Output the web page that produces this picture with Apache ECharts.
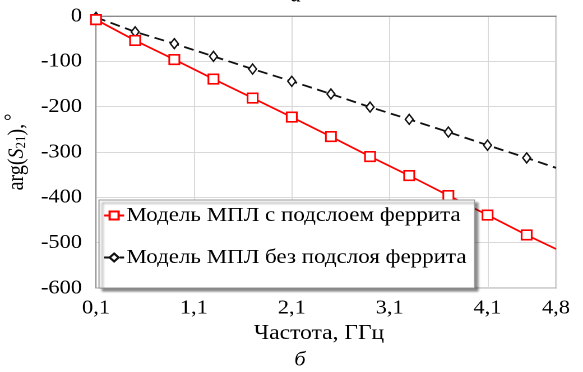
<!DOCTYPE html>
<html>
<head>
<meta charset="utf-8">
<script src="https://cdn.jsdelivr.net/npm/echarts@6/dist/echarts.min.js"></script>
<style>
  html, body { margin: 0; padding: 0; background: #fff; overflow: hidden; }
  /* The figure is laid out narrower and widened horizontally, as in the printed original */
  #chart { width: 520px; height: 372px; transform: scaleX(1.1212); transform-origin: 0 0; }
</style>
</head>
<body>
<div id="chart"></div>
<script>
// Frequency points (GHz) and phase of S21 (degrees)
const freq = [0.1, 0.5, 0.9, 1.3, 1.7, 2.1, 2.5, 2.9, 3.3, 3.7, 4.1, 4.5, 4.8];
const phaseWithFerrite = [-8, -54, -96, -139, -181, -223, -266, -310, -352, -396, -439, -483, -514];
const phaseNoFerrite = [-3, -35, -61, -89, -117, -144, -172, -201, -228, -256, -285, -313, -335];
const xTicks = [0.1, 1.1, 2.1, 3.1, 4.1, 4.8];
const seriesNames = ['Модель МПЛ с подслоем феррита', 'Модель МПЛ без подслоя феррита'];

const FONT = '"Liberation Serif", "Times New Roman", serif';
const SX = 583 / 520;             // horizontal widening of the whole figure
const px = (x) => x / SX;         // page x -> layout x
const pairs = (ys) => freq.map((f, i) => [f, ys[i]]);
const lastF = freq[freq.length - 1];

const chart = echarts.init(document.getElementById('chart'), null, { renderer: 'canvas', devicePixelRatio: 2 });
chart.setOption({
  animation: false,
  textStyle: { fontFamily: FONT },
  grid: {
    left: px(96), right: px(27), top: 16, bottom: 84,
    outerBoundsMode: 'none',
    show: true, borderColor: '#a6a6a6', borderWidth: 1
  },
  xAxis: {
    type: 'value', min: 0.1, max: 4.8,
    axisLine: { show: true, lineStyle: { color: '#8c8c8c', width: 1 } },
    axisTick: { show: false, customValues: xTicks },
    splitLine: { show: true, lineStyle: { color: '#d9d9d9', width: 1 } },
    axisLabel: {
      customValues: xTicks,
      color: '#000', fontFamily: FONT, fontSize: 20, margin: 10,
      formatter: (v) => String(Math.round(v * 10) / 10).replace('.', ',')
    }
  },
  yAxis: {
    type: 'value', min: -600, max: 0, interval: 100,
    axisLine: { show: true, lineStyle: { color: '#8c8c8c', width: 1 } },
    axisTick: { show: false },
    splitLine: { show: true, lineStyle: { color: '#d9d9d9', width: 1 } },
    axisLabel: { color: '#000', fontFamily: FONT, fontSize: 20, margin: px(14) },
    name: '{n|arg(}{i|S}{s|21}{n|),} {d|°}',
    nameLocation: 'middle', nameRotate: 90, nameGap: px(60),
    nameTextStyle: {
      color: '#000',
      rich: {
        n: { fontFamily: FONT, fontSize: 20, color: '#000' },
        i: { fontFamily: FONT, fontSize: 20, fontStyle: 'italic', color: '#000' },
        s: { fontFamily: FONT, fontSize: 13, color: '#000', padding: [8, 0, 0, 0] },
        d: { fontFamily: FONT, fontSize: 18, color: '#000', padding: [0, 0, 8, 0] }
      }
    }
  },
  legend: {
    orient: 'vertical',
    left: px(99), top: 200,
    padding: [5, px(8), 20, px(4)],
    itemGap: 21,
    itemWidth: px(20), itemHeight: 10,
    backgroundColor: '#fff',
    borderColor: '#9a9a9a', borderWidth: 1,
    shadowColor: 'rgba(0,0,0,0.45)', shadowBlur: 2, shadowOffsetX: 3, shadowOffsetY: 3,
    textStyle: { fontFamily: FONT, fontSize: 20.5, color: '#000', padding: [0, 0, 0, -3] },
    data: seriesNames
  },
  series: [
    {
      name: seriesNames[0], type: 'line',
      data: pairs(phaseWithFerrite),
      symbol: 'rect', symbolSize: (v) => (v[0] === lastF ? 0 : [9, 9.5]),
      showAllSymbol: true,
      lineStyle: { color: '#ff0000', width: 1.7 },
      itemStyle: { color: '#fff', borderColor: '#ff0000', borderWidth: 1.6 },
      z: 3
    },
    {
      name: seriesNames[1], type: 'line',
      data: pairs(phaseNoFerrite),
      symbol: 'diamond', symbolSize: (v) => (v[0] === lastF ? 0 : [7, 10]),
      showAllSymbol: true,
      lineStyle: { color: '#111', width: 1.8, type: [9, 5] },
      itemStyle: { color: '#fff', borderColor: '#111', borderWidth: 1.4 },
      z: 2
    }
  ],
  graphic: [
    {
      type: 'text', x: px(319), y: 323,
      style: { text: 'Частота, ГГц', fontFamily: FONT, fontSize: 21, fill: '#000', align: 'center' }
    },
    {
      type: 'text', x: px(300), y: 350,
      style: { text: 'б', fontFamily: FONT, fontSize: 20, fontStyle: 'italic', fill: '#000', align: 'center' }
    },
    {
      type: 'text', x: px(296), y: -14,
      style: { text: 'а', fontFamily: FONT, fontSize: 20, fontStyle: 'italic', fill: '#000', align: 'center' }
    }
  ]
});
</script>
</body>
</html>
